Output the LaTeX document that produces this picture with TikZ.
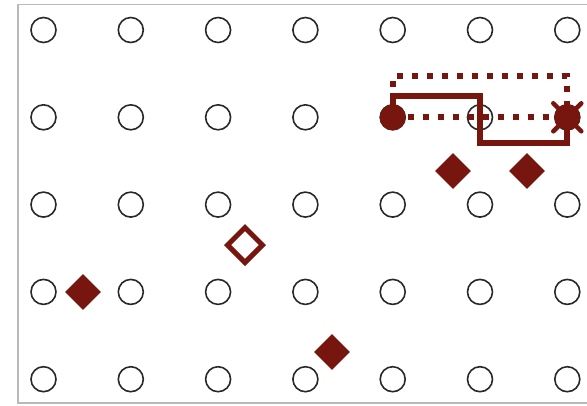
\documentclass[tikz,border=0pt]{standalone}
\usetikzlibrary{shapes.geometric,calc}
\definecolor{dred}{RGB}{118,22,14}
\definecolor{ringc}{RGB}{40,40,40}
\begin{document}
\begin{tikzpicture}[x=1pt,y=-1pt,
  ring/.style={circle,draw=ringc,line width=1.6pt,minimum size=25pt,inner sep=0pt},
  fdiam/.style={diamond,aspect=1,fill=dred,minimum size=36pt,inner sep=0pt},
  hdiam/.style={diamond,aspect=1,draw=dred,line width=5pt,minimum size=37pt,inner sep=0pt},
  startdot/.style={circle,fill=dred,minimum size=26pt,inner sep=0pt},
  blob/.style={circle,fill=dred,minimum size=26pt,inner sep=0pt},
  thickline/.style={draw=dred,line width=6pt,line join=miter},
  dotline/.style={draw=dred,line width=6pt,dash pattern=on 6pt off 9pt}]
\useasboundingbox (0,0) rectangle (587,405);
\draw[gray!55,line width=1.5pt] (600,4.5) -- (18,4.5) -- (18,403) -- (600,403);
\foreach \i in {0,...,6}{
  \foreach \j in {0,...,4}{
    \node[ring] (c\i\j) at ({43.5+87.3*\i},{30+87.3*\j}) {};
  }
}
\node[startdot] (s) at (c41) {};
\node[blob] (x) at (c61) {};
\draw[dred,line width=4.5pt,line cap=round] ($(x)+(-14,-14)$) -- ($(x)+(14,14)$);
\draw[dred,line width=4.5pt,line cap=round] ($(x)+(-14,14)$) -- ($(x)+(14,-14)$);
\draw[dotline] (s.center) -- (x.center);
\draw[dotline] (s.center) -- ++(0,-41) -| (x.center);
\draw[thickline] (s.center) -- ++(0,-21.3) -| ($(c51)+(0,26)$) -| (x.center);
\node[fdiam] (d1) at (453,171) {};
\node[fdiam] (d2) at (527,171) {};
\node[hdiam] (d3) at (245,245) {};
\node[fdiam] (d4) at (83,292) {};
\node[fdiam] (d5) at (332,352) {};
\end{tikzpicture}
\end{document}
